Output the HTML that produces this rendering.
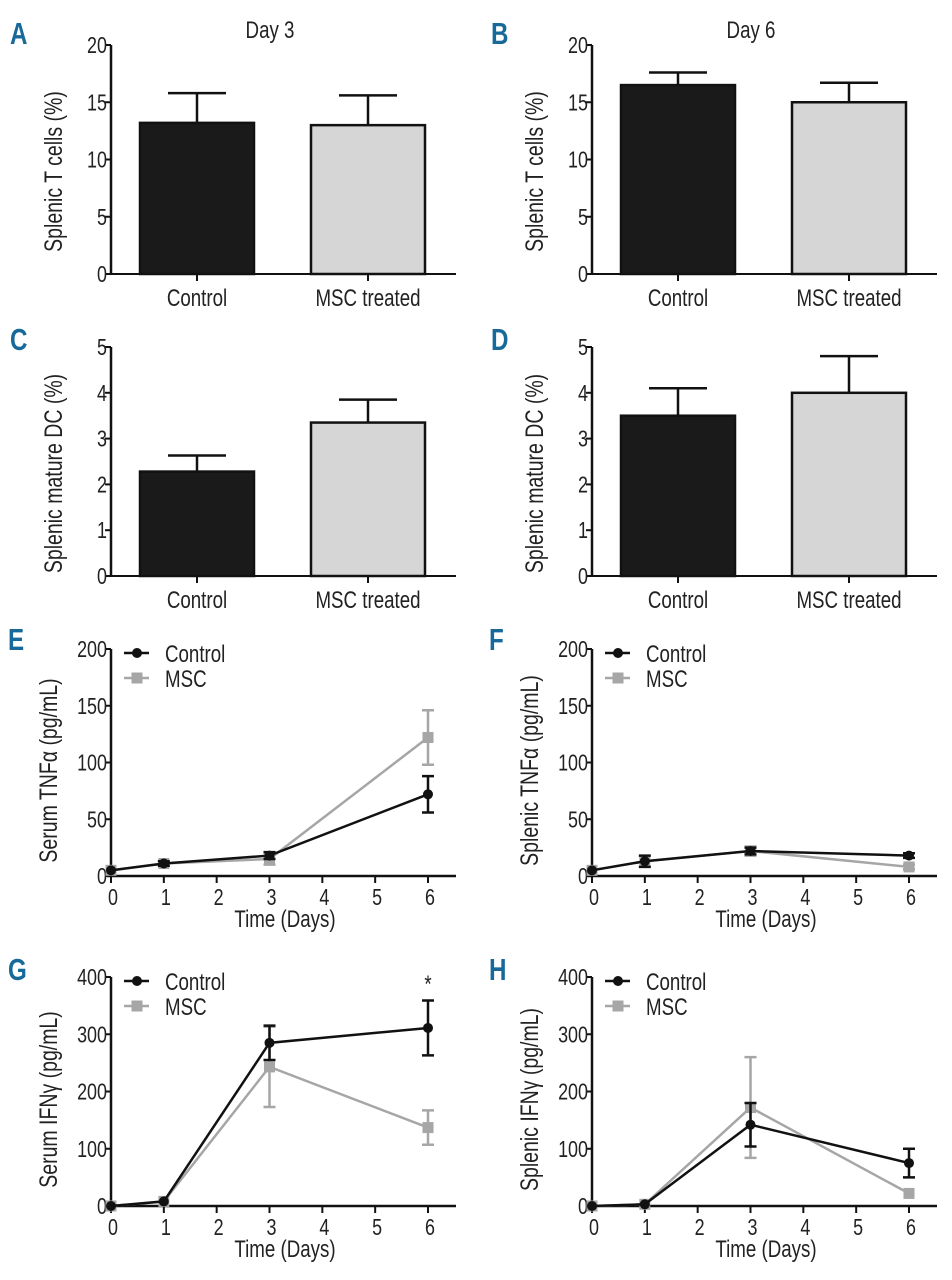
<!DOCTYPE html>
<html><head><meta charset="utf-8"><style>
body{margin:0;background:#fff}
svg{display:block;font-family:"Liberation Sans",sans-serif}
.tick{font-size:23px;fill:#222}
.lbl{font-size:24px;fill:#222}
.ylbl{font-size:25px;fill:#222}
.letter{font-family:"Liberation Sans",sans-serif;font-weight:bold;font-size:31px;fill:#17699a}
</style></head><body>
<svg id="fig" width="952" height="1280" viewBox="0 0 952 1280"></svg>
<script>
// ---- Bar data ----
const barCategories = ["Control","MSC treated"];
const aMeans = [13.2, 13.0];  const aErr = [2.6, 2.6];
const bMeans = [16.5, 15.0];  const bErr = [1.1, 1.7];
const cMeans = [2.28, 3.35];  const cErr = [0.35, 0.5];
const dMeans = [3.5, 4.0];    const dErr = [0.6, 0.8];
const ticksT = [0,5,10,15,20];
const ticksDC = [0,1,2,3,4,5];
// ---- Line data ----
const days = [0,1,3,6];
const dayTicks = [0,1,2,3,4,5,6];
const eCtrl = [5,11,18,72];   const eCtrlErr = [0,2,3,16];
const eMsc = [5,11,15,122];   const eMscErr = [0,0,5,24];
const fCtrl = [5,13,22,18];   const fCtrlErr = [0,5,3,2];
const fMsc = [5,13,22,8];     const fMscErr = [0,0,4,2];
const gCtrl = [0,8,285,311];  const gCtrlErr = [0,0,30,48];
const gMsc = [0,8,243,137];   const gMscErr = [0,0,70,30];
const hCtrl = [0,3,142,75];   const hCtrlErr = [0,0,38,25];
const hMsc = [0,3,172,22];    const hMscErr = [0,0,88,0];
const ticksTNF = [0,50,100,150,200];
const ticksIFN = [0,100,200,300,400];

const svg = document.getElementById('fig');
const NS = 'http://www.w3.org/2000/svg';
const SQ = 0.78;
function mk(tag, attrs, parent, text){
  const e = document.createElementNS(NS, tag);
  for (const k in attrs) e.setAttribute(k, attrs[k]);
  if (text !== undefined) e.textContent = text;
  (parent||svg).appendChild(e);
  return e;
}
function txt(g, x, y, anchor, cls, s, rot){
  const tr = rot ? `translate(${x} ${y}) rotate(-90) scale(${SQ} 1)` : `translate(${x} ${y}) scale(${SQ} 1)`;
  return mk('text',{x:0,y:0,'text-anchor':anchor,class:cls,transform:tr},g,s);
}

function axisY(g, x0, y0, y1, ticks){
  const maxV = ticks[ticks.length-1];
  const sy = v => y0 - (v/maxV)*(y0-y1);
  const ax = mk('line',{x1:x0,y1:y0,x2:x0,y2:y1,stroke:'#111','stroke-width':2.5},g);
  
  
  ticks.forEach(t=>{
    const l = mk('line',{x1:x0-6,y1:sy(t),x2:x0,y2:sy(t),stroke:'#111','stroke-width':2},g);
    
    
    const tx = txt(g, x0-4, sy(t)+8, 'end', 'tick', String(t));
    
    
  });
  return sy;
}

function ylabel(g, x, y, text){
  const t = txt(g, x, y, 'middle', 'ylbl', text, true);
  
  
}
function letter(g,x,y,ch){
  const t = txt(g, x, y, 'start', 'letter', ch);
  
  
}

function barPanel(name, ox, y0, y1, means, errs, ticks, ylab, title, let, letY){
  const g = mk('g',{});
  
  
  const x0 = ox + 111;
  letter(g, ox+10, letY, let);
  const sy = axisY(g, x0, y0, y1, ticks);
  const xa = mk('line',{x1:x0,y1:y0,x2:ox+456,y2:y0,stroke:'#111','stroke-width':2},g);
  
  
  const fills = ['#1a1a1a','#d6d6d6'];
  means.forEach((m,i)=>{
    const cx = ox + 197 + i*171;
    const w = 114;
    const eb = mk('line',{x1:cx,y1:sy(m),x2:cx,y2:sy(m+errs[i]),stroke:'#111','stroke-width':2.5},g);
    
    
    const cap = mk('line',{x1:cx-29,y1:sy(m+errs[i]),x2:cx+29,y2:sy(m+errs[i]),stroke:'#111','stroke-width':2.5},g);
    
    
    const r = mk('rect',{x:cx-w/2,y:sy(m),width:w,height:y0-sy(m),fill:fills[i],stroke:'#111','stroke-width':2.5},g);
    
    
    const tk = mk('line',{x1:cx,y1:y0,x2:cx,y2:y0+7,stroke:'#111','stroke-width':2},g);
    
    
    const tl = txt(g, cx, y0+32, 'middle', 'lbl', barCategories[i]);
    
    
  });
  ylabel(g, ox+62, (y0+y1)/2+12, ylab);
  if (title){
    const t = txt(g, ox+270, 38, 'middle', 'lbl', title);
    t.setAttribute('font-size','25');
    
    
  }
}

function linePanel(name, ox, y0, y1, ctrl, ctrlErr, msc, mscErr, ticks, ylab, let, letY, star){
  const g = mk('g',{});
  
  
  const x0 = ox + 111;
  const x6 = ox + 428;
  const sx = d => x0 + d/6*(x6-x0);
  letter(g, ox+8, letY, let);
  const sy = axisY(g, x0, y0, y1, ticks);
  const xa = mk('line',{x1:x0-4,y1:y0,x2:ox+456,y2:y0,stroke:'#111','stroke-width':2.5},g);
  
  
  dayTicks.forEach(d=>{
    const tk = mk('line',{x1:sx(d),y1:y0,x2:sx(d),y2:y0+7,stroke:'#111','stroke-width':2},g);
    
    
    const tl = txt(g, sx(d)+2, y0+29, 'middle', 'tick', String(d));
    
    
  });
  const xt = txt(g, ox+285, y0+51, 'middle', 'lbl', 'Time (Days)');
  
  
  ylabel(g, ox+57, (y0+y1)/2+8, ylab);
  const series = [[msc,mscErr,'#a6a6a6','msc'],[ctrl,ctrlErr,'#111','control']];
  series.forEach(([vals,errs,col,nm])=>{
    const pts = vals.map((v,i)=>sx(days[i])+','+sy(v)).join(' ');
    const pl = mk('polyline',{points:pts,fill:'none',stroke:col,'stroke-width':2.5},g);
    
    
    vals.forEach((v,i)=>{
      const cx = sx(days[i]);
      if (errs[i]>0){
        const e = mk('path',{d:`M${cx},${sy(v-errs[i])}V${sy(v+errs[i])}M${cx-6},${sy(v-errs[i])}h12M${cx-6},${sy(v+errs[i])}h12`,stroke:col,'stroke-width':2.5,fill:'none'},g);
        
        
      }
      let m;
      if (nm==='control') m = mk('circle',{cx:cx,cy:sy(v),r:5,fill:col},g);
      else m = mk('rect',{x:cx-5.5,y:sy(v)-5.5,width:11,height:11,fill:col},g);
      
      
    });
  });
  const ly = y1 + 4;
  const l1 = mk('line',{x1:ox+124,y1:ly,x2:ox+149,y2:ly,stroke:'#111','stroke-width':2.5},g);
  
  
  const c1 = mk('circle',{cx:ox+137,cy:ly,r:5,fill:'#111'},g);
  
  
  const t1 = txt(g, ox+165, ly+9, 'start', 'lbl', 'Control');
  
  
  const l2 = mk('line',{x1:ox+124,y1:ly+25,x2:ox+149,y2:ly+25,stroke:'#a6a6a6','stroke-width':2.5},g);
  
  
  const r2 = mk('rect',{x:ox+131.5,y:ly+19.5,width:11,height:11,fill:'#a6a6a6'},g);
  
  
  const t2 = txt(g, ox+165, ly+34, 'start', 'lbl', 'MSC');
  
  
  if (star){
    const s = txt(g, x6, y1+15, 'middle', 'lbl', '*');
    
    
  }
}

barPanel('panel-a',0,274,45,aMeans,aErr,ticksT,'Splenic T cells  (%)','Day 3','A',44);
barPanel('panel-b',481,274,45,bMeans,bErr,ticksT,'Splenic T cells  (%)','Day 6','B',44);
barPanel('panel-c',0,576,347,cMeans,cErr,ticksDC,'Splenic mature DC (%)',null,'C',350);
barPanel('panel-d',481,576,347,dMeans,dErr,ticksDC,'Splenic mature DC (%)',null,'D',350);
linePanel('panel-e',0,876,649,eCtrl,eCtrlErr,eMsc,eMscErr,ticksTNF,'Serum TNFα (pg/mL)','E',650,false);
linePanel('panel-f',481,876,649,fCtrl,fCtrlErr,fMsc,fMscErr,ticksTNF,'Splenic TNFα (pg/mL)','F',650,false);
linePanel('panel-g',0,1206,977,gCtrl,gCtrlErr,gMsc,gMscErr,ticksIFN,'Serum IFNγ (pg/mL)','G',980,true);
linePanel('panel-h',481,1206,977,hCtrl,hCtrlErr,hMsc,hMscErr,ticksIFN,'Splenic IFNγ (pg/mL)','H',980,false);
</script>
</body></html>
